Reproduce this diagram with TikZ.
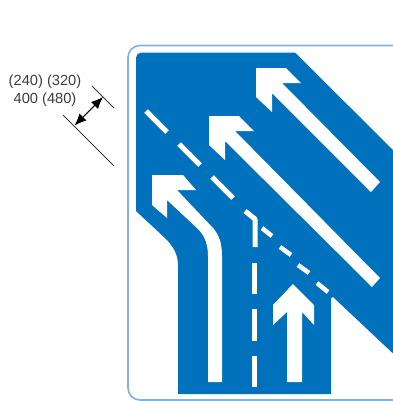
\documentclass[tikz,border=0pt]{standalone}
\usepackage{fontspec}
\setsansfont{Liberation Sans}
\usepackage{tikz}
\usetikzlibrary{arrows.meta, positioning, calc}
\definecolor{signblue}{HTML}{0071BC}
\definecolor{edgeblue}{HTML}{7FB2DC}
\definecolor{inkgrey}{HTML}{3C3C3C}
\tikzset{
  marking/.style={fill=white, draw=none},
  dashmark/.style={draw=white, line width=3.75pt},
  shortmark/.style={draw=white, line width=3.4pt},
  dimtick/.style={draw=inkgrey, line width=0.7pt},
  dimlabel/.style={text=inkgrey, font=\sffamily\fontsize{11}{13.5}\selectfont, align=center},
}
\begin{document}
\begin{tikzpicture}[x=0.75pt, y=-0.75pt]
        \useasboundingbox (0, 0) rectangle (393, 401);
        \clip (0, 0) rectangle (393, 401);

        % Sign edge and blue ground
        \draw[edgeblue, line width=1.2pt, rounded corners=9pt] (128, 45.5) rectangle (405, 400);
        \fill[signblue, rounded corners=4pt] (136, 211) -- (136, 52.5) -- (200, 52.5) [sharp corners] -- (295, 52.5) -- (400, 157) -- (400, 360)
            -- (333, 297) -- (331, 298) -- (331, 394) -- (178, 394) -- (178, 265)
            .. controls (178, 253) and (172, 245) .. (165, 238) -- cycle;

        % Straight arrows on the two upper lanes
        \fill[marking] (256, 68) -- (286, 68) -- (301, 83) -- (282, 83) -- (380, 182) -- (371, 192)
            -- (272, 93) -- (272, 112) -- (256, 97) -- cycle;
        \fill[marking] (209, 116) -- (239, 116) -- (254, 131) -- (235, 131) -- (380, 278) -- (372, 287)
            -- (225, 141) -- (225, 160) -- (209, 145) -- cycle;

        % Curved arrow on the left lane
        \fill[marking] (152, 175) -- (183, 175) -- (196, 190) -- (177, 190) -- (213, 228)
            .. controls (219, 235) and (222, 243) .. (222, 256) -- (222, 382) -- (208, 382) -- (208, 256)
            .. controls (208, 245) and (205, 236) .. (198, 229) -- (167, 200) -- (167, 218) -- (152, 205) -- cycle;

        % Up arrow on the lower lane
        \fill[marking] (293, 284) -- (314, 305) -- (314, 325) -- (302, 312) -- (302, 382) -- (287, 382)
            -- (287, 312) -- (273, 325) -- (273, 305) -- cycle;

        % Long dashes along the diagonal
        \draw[dashmark] (146, 111) -- (167, 132);
        \draw[dashmark] (179, 144) -- (200, 165);
        \draw[dashmark] (212, 177) -- (233, 198);
        \draw[dashmark, line join=round] (245, 211) -- (255, 219) -- (255, 247);

        % Vertical dashes
        \draw[dashmark] (254.5, 263) -- (254.5, 294);
        \draw[dashmark] (254.5, 309) -- (254.5, 341);
        \draw[dashmark] (254.5, 356) -- (254.5, 387);

        % Short dashes
        \draw[shortmark] (262, 228) -- (272, 236);
        \draw[shortmark] (280, 247) -- (291, 255);
        \draw[shortmark] (298, 265) -- (309, 273);
        \draw[shortmark] (317, 283) -- (328, 292);

        % Dimension on the left
        \coordinate (tickA) at (92, 86);
        \coordinate (tickB) at (114, 108);
        \coordinate (tickC) at (63, 115);
        \coordinate (tickD) at (114, 166);
        \coordinate (dimA) at (103, 97);
        \coordinate (dimB) at (74.5, 125.5);
        \draw[dimtick] (tickA) -- (tickB);
        \draw[dimtick] (tickC) -- (tickD);
        \draw[{Latex[length=9pt, width=7.5pt]}-{Latex[length=9pt, width=7.5pt]}, black, line width=0.8pt] (dimA) -- (dimB);
        \node[dimlabel] (dimtop) at (45, 82) {(240) (320)};
        \node[dimlabel] (dimbot) at (45, 100) {400 (480)};
\end{tikzpicture}
\end{document}
